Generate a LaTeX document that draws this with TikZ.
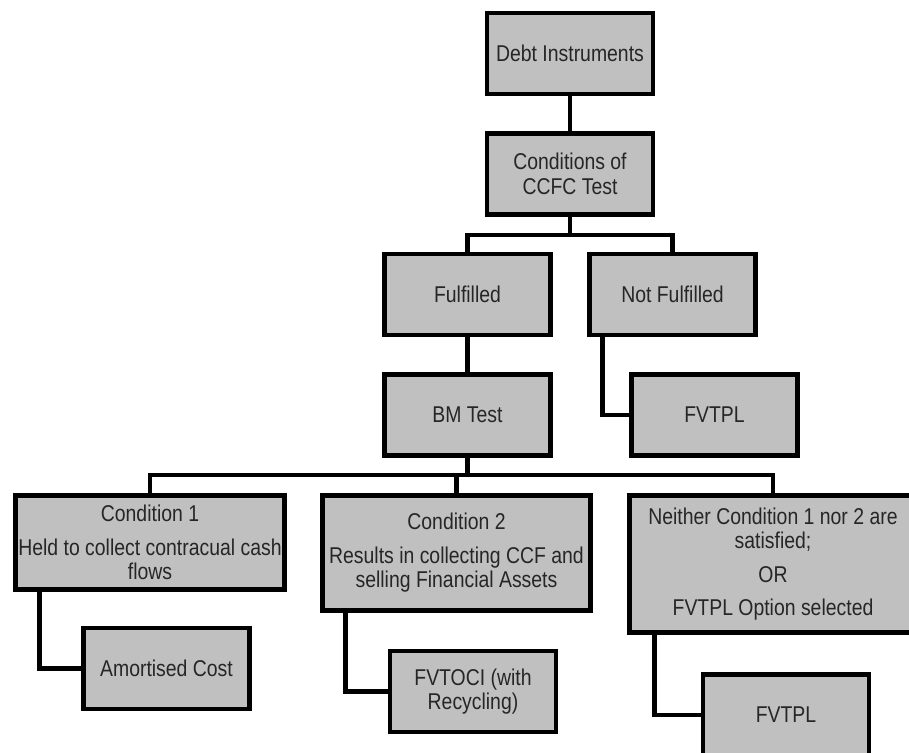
\documentclass[tikz,border=0pt]{standalone}
\usepackage{fontspec}
\setmainfont{Liberation Sans}[FakeStretch=0.85]
\usetikzlibrary{positioning}
\definecolor{boxgray}{RGB}{192,192,192}
\tikzset{
    box/.style={draw=black, fill=boxgray, line width=2.8pt, text=black!85,
        align=center, inner sep=1pt, minimum width=3.32cm, minimum height=1.62cm,
        font=\fontsize{13}{14}\selectfont},
    link/.style={line width=2.8pt}
}

\begin{document}
\begin{tikzpicture}[x=0.02cm,y=-0.02cm]
    \useasboundingbox (0,0) rectangle (909,752);
    \clip (0,0) rectangle (909,752);
% upper part
    \node[box] (debt) at (570,53.5) {Debt Instruments};
    \node[box] (ccfc) at (570,174) {Conditions of\\CCFC Test};
    \node[box] (ful) at (467.5,294.5) {Fulfilled};
    \node[box] (nful) at (672.5,294.5) {Not Fulfilled};
    \node[box] (bm) at (467.5,415) {BM Test};
    \node[box] (fvtplA) at (714.5,415) {FVTPL};
    \coordinate (busA) at (570,235);
    \draw[link] (debt) -- (ccfc);
    \draw[link] (ccfc) -- (busA);
    \draw[link] (ful.north) |- (busA) -| (nful.north);
    \draw[link] (ful) -- (bm);
    \draw[link] ([xshift=0.31cm]nful.south west) |- (fvtplA);
% lower part
    \node[box, minimum width=5.38cm, minimum height=1.88cm] (condA) at (150,542.5)
        {Condition 1\\[5pt]Held to collect contracual cash\\flows};
    \node[box, minimum width=5.36cm, minimum height=2.30cm] (condB) at (456.5,553)
        {Condition 2\\[5pt]Results in collecting CCF and\\selling Financial Assets};
    \node[box, minimum width=5.74cm, minimum height=2.74cm] (neither) at (773,564)
        {Neither Condition 1 nor 2 are\\satisfied;\\[5pt]OR\\[5pt]FVTPL Option selected};
    \node[box] (amort) at (166.5,668.5) {Amortised Cost};
    \node[box] (fvoci) at (473,691.5) {FVTOCI (with\\Recycling)};
    \node[box] (fvtplB) at (786,715) {FVTPL};
    \coordinate (busB) at (467.5,475);
    \draw[link] (bm) -- (busB);
    \draw[link] (condA.north) |- (busB) -| (neither.north);
    \draw[link] (condB.north) -- (condB.north |- busB);
    \draw[link] ([xshift=0.53cm]condA.south west) |- (amort);
    \draw[link] ([xshift=0.51cm]condB.south west) |- (fvoci);
    \draw[link] ([xshift=0.55cm]neither.south west) |- (fvtplB);
\end{tikzpicture}
\end{document}
